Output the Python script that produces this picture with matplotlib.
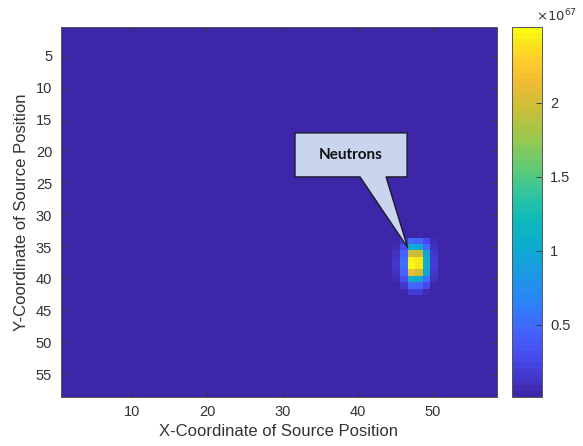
import numpy as np
import matplotlib
matplotlib.use("Agg")
import matplotlib.pyplot as plt
from matplotlib.colors import LinearSegmentedColormap
from matplotlib.patches import Polygon

plt.rcParams["font.family"] = ["Liberation Sans", "DejaVu Sans"]

# ---- data (intensity in units of 1e67) ----
grid_size = 58
background_level = 0.013
spot_rows = [34, 35, 36, 37, 38, 39, 40, 41, 42]
spot_cols = [45, 46, 47, 48, 49, 50]
spot_values = [
    [0.03, 0.15, 0.50, 0.45, 0.25, 0.06],
    [0.08, 0.30, 1.00, 0.95, 0.50, 0.10],
    [0.12, 0.45, 2.00, 1.95, 0.95, 0.15],
    [0.15, 0.55, 2.45, 2.40, 1.10, 0.18],
    [0.15, 0.55, 2.51, 2.42, 1.10, 0.18],
    [0.12, 0.45, 2.10, 2.00, 0.95, 0.15],
    [0.08, 0.30, 1.10, 1.00, 0.55, 0.10],
    [0.04, 0.15, 0.50, 0.45, 0.25, 0.05],
    [0.02, 0.05, 0.20, 0.18, 0.08, 0.02],
]
x_ticks = [10, 20, 30, 40, 50]
y_ticks = [5, 10, 15, 20, 25, 30, 35, 40, 45, 50, 55]
cbar_ticks = [0.5, 1, 1.5, 2]
cbar_exponent = 67
callout_text = "Neutrons"

field = np.full((grid_size, grid_size), background_level)
for i, r in enumerate(spot_rows):
    for j, c in enumerate(spot_cols):
        field[r - 1, c - 1] = spot_values[i][j]

# parula-like colormap
parula_anchors = [
    (0.00, (0.2422, 0.1504, 0.6603)),
    (0.10, (0.2780, 0.2920, 0.9350)),
    (0.18, (0.2660, 0.3990, 0.9930)),
    (0.25, (0.1700, 0.5110, 0.9700)),
    (0.32, (0.1150, 0.5900, 0.9050)),
    (0.40, (0.0530, 0.6700, 0.8200)),
    (0.48, (0.0600, 0.7300, 0.7300)),
    (0.55, (0.1900, 0.7700, 0.6300)),
    (0.62, (0.3800, 0.7950, 0.4600)),
    (0.70, (0.5950, 0.7850, 0.3100)),
    (0.78, (0.7800, 0.7500, 0.2200)),
    (0.86, (0.9500, 0.7350, 0.2000)),
    (0.92, (0.9950, 0.8100, 0.1700)),
    (0.96, (0.9740, 0.8900, 0.1100)),
    (1.00, (0.9769, 0.9839, 0.0805)),
]
parula = LinearSegmentedColormap.from_list("parula", parula_anchors, N=64)

W, H = 583, 446
fig = plt.figure(figsize=(W / 100, H / 100), dpi=100)
ax = fig.add_axes([60.5 / W, 1 - 397 / H, 436.5 / W, 370 / H])
cax = fig.add_axes([512 / W, 1 - 397 / H, 30 / W, 370 / H])

im = ax.imshow(field, cmap=parula, aspect="auto", interpolation="nearest",
               extent=(0.5, grid_size + 0.5, grid_size + 0.5, 0.5),
               vmin=field.min(), vmax=field.max())

text_color = "#333333"
ax.set_xticks(x_ticks)
ax.set_yticks(y_ticks)
ax.tick_params(direction="in", length=3.5, width=0.6, top=True, right=True,
               labelsize=10.5, colors=text_color, pad=6)
for s in ax.spines.values():
    s.set_color("#555555")
    s.set_linewidth(0.7)
ax.set_xlabel("X-Coordinate of Source Position", fontsize=12, color=text_color, labelpad=3)
ax.set_ylabel("Y-Coordinate of Source Position", fontsize=12, color=text_color, labelpad=5)

cb = fig.colorbar(im, cax=cax, ticks=cbar_ticks)
cb.ax.tick_params(direction="in", length=4, width=0.6, labelsize=10.5, colors=text_color, pad=6)
cb.ax.set_yticklabels([f"{t:g}" for t in cbar_ticks])
cb.outline.set_edgecolor("#555555")
cb.outline.set_linewidth(0.7)
fig.text(577 / W, 1 - 16 / H, r"$\times10^{%d}$" % cbar_exponent, fontsize=9.5,
         color=text_color, ha="right", va="center")

# speech-bubble callout pointing at the hot spot
box_l, box_r, box_t, box_b = 31.66, 46.55, 17.1, 24.0
base_l, base_r = 40.3, 43.76
tip = (46.64, 35.1)
bubble = Polygon([(box_l, box_t), (box_r, box_t), (box_r, box_b), (base_r, box_b),
                  tip, (base_l, box_b), (box_l, box_b)], closed=True,
                 facecolor="#C9D5EE", edgecolor="#1b1b2b", linewidth=1.0, zorder=5)
ax.add_patch(bubble)
ax.text((box_l + box_r) / 2, (box_t + box_b) / 2, callout_text, fontsize=11,
        fontweight="bold", family=["Lato", "DejaVu Sans"], color="#111111",
        ha="center", va="center", zorder=6)

fig.savefig("out.png", dpi=100)
